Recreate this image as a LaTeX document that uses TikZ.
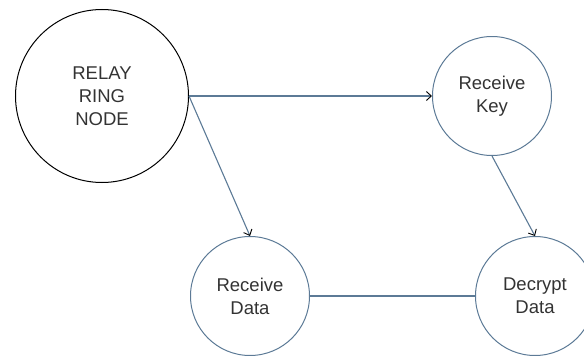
\documentclass[tikz,border=0pt]{standalone}
\usepackage{fontspec}
\setmainfont{Liberation Sans}
\usepackage{xcolor}
\usepackage{tikz}
\usetikzlibrary{arrows.meta,positioning}

\definecolor{linkblue}{RGB}{92,122,150}

\begin{document}
\begin{tikzpicture}[
    x=1pt, y=-1pt,
    state/.style={circle, draw=linkblue, line width=1pt, minimum size=119pt,
      inner sep=0pt, align=center, text=black!80,
      font=\fontsize{18.5}{23}\selectfont},
    relay/.style={state, draw=black, minimum size=173pt},
    link/.style={draw=linkblue, line width=1.1pt},
    flow/.style={link, -{Straight Barb[color=black, length=5pt, width=9pt, line width=0.9pt]}}
  ]
    \useasboundingbox (0,0) rectangle (584,356);

    % Nodes
    \node[relay] (relayNode) at (102,96) {RELAY\\RING\\NODE};
    \node[state] (recvKey) at (492,96) {Receive\\Key};
    \node[state] (recvData) at (250,296) {Receive\\Data};
    \node[state] (decrypt) at (535,296) {Decrypt\\Data};

    % Links
    \draw[flow] (relayNode.east) -- (recvKey.west);
    \draw[flow] (relayNode.east) -- (recvData.north);
    \draw[flow] (recvKey.south) -- (decrypt.north);
    \draw[link] (recvData.east) -- (decrypt.west);
  \end{tikzpicture}
\end{document}
